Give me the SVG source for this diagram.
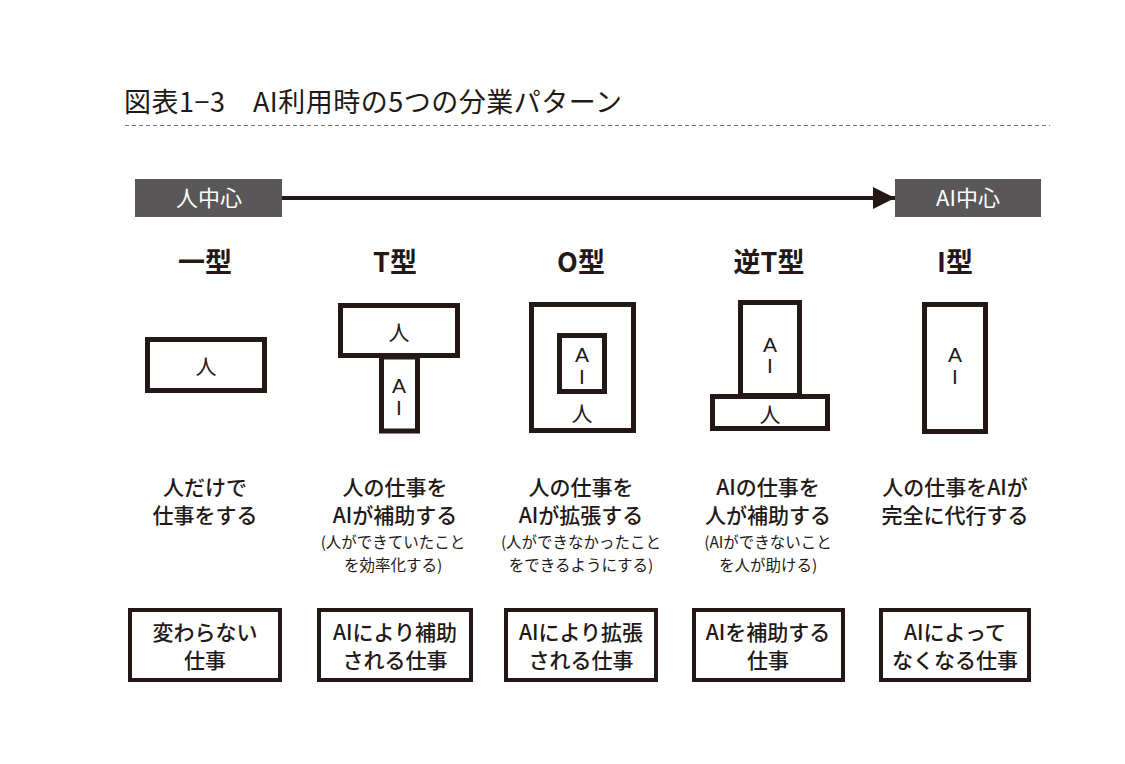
<svg xmlns="http://www.w3.org/2000/svg" width="1125" height="764" viewBox="0 0 1125 764">
<style>
text{font-family:"Noto Sans CJK JP","Noto Sans",sans-serif;fill:#231815;text-anchor:middle}
.title{font-size:27px;font-weight:400;text-anchor:start;letter-spacing:0.5px}
.hdr{font-size:22px;fill:#fff;font-weight:400}
.type{font-size:27px;font-weight:700}
.in{font-size:21px;font-weight:400}
.ai{font-size:21px;font-weight:400;font-family:"Liberation Sans","DejaVu Sans",sans-serif}
.d1{font-size:21px;font-weight:500}
.d2{font-size:15.5px;font-weight:400}
.b{font-size:21px;font-weight:500}
.shape{fill:#fff;stroke:#231815;stroke-width:5}
.box{fill:#fff;stroke:#231815;stroke-width:4}
</style>
<defs>
<marker id="arr" markerWidth="24" markerHeight="24" refX="22" refY="12" orient="auto" markerUnits="userSpaceOnUse">
<path d="M0,1 L22,12 L0,23 Z" fill="#231815"/>
</marker>
</defs>
<rect width="1125" height="764" fill="#fff"/>
<text class="title" x="124" y="112">図表1−3　AI利用時の5つの分業パターン</text>
<line x1="125" y1="125.5" x2="1050" y2="125.5" stroke="#777" stroke-width="1.2" stroke-dasharray="4 3"/>

<g id="connectors">
<line x1="282" y1="198" x2="895" y2="198" stroke="#231815" stroke-width="4" marker-end="url(#arr)"/>
</g>

<g id="hdr-human">
<rect x="135" y="179" width="147" height="38" fill="#595757"/>
<text class="hdr" x="209" y="206">人中心</text>
</g>
<g id="hdr-ai">
<rect x="895" y="179" width="146" height="38" fill="#595757"/>
<text class="hdr" x="968" y="206">AI中心</text>
</g>

<g id="col1">
<text class="type" x="205" y="272">一型</text>
<rect class="shape" x="147.5" y="339.5" width="117" height="51"/>
<text class="in" x="206" y="374">人</text>
<text class="d1" x="205" y="495">人だけで<tspan x="205" y="523">仕事をする</tspan></text>
<rect class="box" x="130" y="610" width="150" height="70"/>
<text class="b" x="205" y="640">変わらない<tspan x="205" y="668">仕事</tspan></text>
</g>

<g id="col2">
<text class="type" x="395" y="272">T型</text>
<rect class="shape" x="381.5" y="357" width="36" height="74"/>
<rect class="shape" x="340.5" y="305.5" width="117" height="50"/>
<text class="in" x="399" y="340">人</text>
<text class="ai" x="399" y="393">A</text>
<text class="ai" x="399" y="415">I</text>
<text class="d1" x="395" y="495">人の仕事を<tspan x="395" y="523">AIが補助する</tspan></text>
<text class="d2" x="393" y="548">(人ができていたこと</text>
<text class="d2" x="393" y="571">を効率化する)</text>
<rect class="box" x="319" y="610" width="152" height="70"/>
<text class="b" x="395" y="640">AIにより補助<tspan x="395" y="668">される仕事</tspan></text>
</g>

<g id="col3">
<text class="type" x="581" y="272">O型</text>
<rect class="shape" x="531.5" y="304.5" width="102" height="126"/>
<rect class="shape" x="559.5" y="335.5" width="45" height="56"/>
<text class="ai" x="582" y="362">A</text>
<text class="ai" x="582" y="384">I</text>
<text class="in" x="582" y="421">人</text>
<text class="d1" x="581" y="495">人の仕事を<tspan x="581" y="523">AIが拡張する</tspan></text>
<text class="d2" x="581" y="548">(人ができなかったこと</text>
<text class="d2" x="581" y="571">をできるようにする)</text>
<rect class="box" x="506" y="610" width="150" height="70"/>
<text class="b" x="581" y="640">AIにより拡張<tspan x="581" y="668">される仕事</tspan></text>
</g>

<g id="col4">
<text class="type" x="769" y="272">逆T型</text>
<rect class="shape" x="740.5" y="302.5" width="59" height="93"/>
<rect class="shape" x="712.5" y="396.5" width="115" height="32"/>
<text class="ai" x="770" y="352">A</text>
<text class="ai" x="770" y="373">I</text>
<text class="in" x="770" y="422">人</text>
<text class="d1" x="768" y="495">AIの仕事を<tspan x="768" y="523">人が補助する</tspan></text>
<text class="d2" x="768" y="548">(AIができないこと</text>
<text class="d2" x="768" y="571">を人が助ける)</text>
<rect class="box" x="694" y="610" width="149" height="70"/>
<text class="b" x="768" y="640">AIを補助する<tspan x="768" y="668">仕事</tspan></text>
</g>

<g id="col5">
<text class="type" x="955" y="272">I型</text>
<rect class="shape" x="924.5" y="304.5" width="61" height="127"/>
<text class="ai" x="955" y="362">A</text>
<text class="ai" x="955" y="384">I</text>
<text class="d1" x="955" y="495">人の仕事をAIが<tspan x="955" y="523">完全に代行する</tspan></text>
<rect class="box" x="881" y="610" width="148" height="70"/>
<text class="b" x="955" y="640">AIによって<tspan x="955" y="668">なくなる仕事</tspan></text>
</g>
</svg>
